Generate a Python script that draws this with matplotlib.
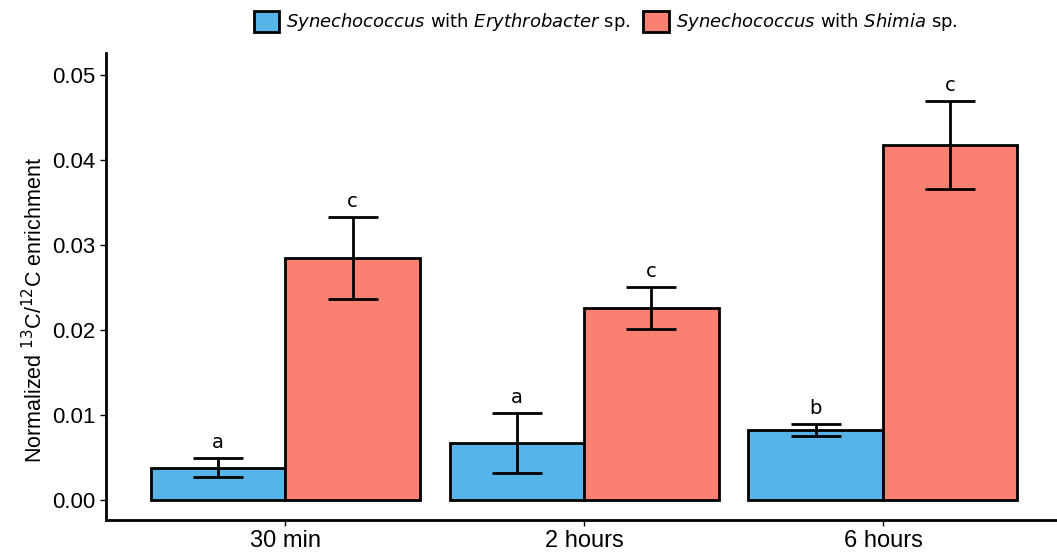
import matplotlib.pyplot as plt
import numpy as np

plt.rcParams['font.family'] = ['Liberation Sans', 'DejaVu Sans']
plt.rcParams['mathtext.fontset'] = 'custom'
plt.rcParams['mathtext.it'] = 'DejaVu Sans:italic'
plt.rcParams['mathtext.rm'] = 'DejaVu Sans'

times = ["30 min", "2 hours", "6 hours"]
ery_mean = [0.0038, 0.0067, 0.0082]
ery_err = [0.0011, 0.0035, 0.0007]
shi_mean = [0.0285, 0.0226, 0.0418]
shi_err = [0.0048, 0.0025, 0.0052]
ery_letters = ["a", "a", "b"]
shi_letters = ["c", "c", "c"]

blue = "#56B4E9"
red = "#FA8072"

fig = plt.figure(figsize=(10.57, 5.58), dpi=100)
ax = fig.add_axes([0.1003, 0.068, 0.899, 0.837])

x = np.arange(1, len(times) + 1)
w = 0.45

ax.bar(x - w / 2, ery_mean, w, color=blue, edgecolor="black", linewidth=2,
       label=r"$\it{Synechococcus}$ with $\it{Erythrobacter}$ sp.", zorder=2)
ax.bar(x + w / 2, shi_mean, w, color=red, edgecolor="black", linewidth=2,
       label=r"$\it{Synechococcus}$ with $\it{Shimia}$ sp.", zorder=2)
ax.errorbar(x - w / 2, ery_mean, yerr=ery_err, fmt="none", ecolor="black",
            elinewidth=2, capsize=18, capthick=2, zorder=3)
ax.errorbar(x + w / 2, shi_mean, yerr=shi_err, fmt="none", ecolor="black",
            elinewidth=2, capsize=18, capthick=2, zorder=3)

for xi, m, e, t in zip(x - w / 2, ery_mean, ery_err, ery_letters):
    ax.text(xi, m + e + 0.0007, t, ha="center", va="bottom", fontsize=14,
            family="DejaVu Sans")
for xi, m, e, t in zip(x + w / 2, shi_mean, shi_err, shi_letters):
    ax.text(xi, m + e + 0.0007, t, ha="center", va="bottom", fontsize=14,
            family="DejaVu Sans")

ax.set_xlim(0.4, 3.58)
ax.set_ylim(-0.00235, 0.0526)
ax.set_yticks([0, 0.01, 0.02, 0.03, 0.04, 0.05])
ax.set_yticklabels(["0.00", "0.01", "0.02", "0.03", "0.04", "0.05"])
ax.set_xticks(x)
ax.set_xticklabels(times)
ax.tick_params(axis="y", labelsize=16, length=4, width=1)
ax.tick_params(axis="x", labelsize=17, length=4, width=1)
for s in ["top", "right"]:
    ax.spines[s].set_visible(False)
for s in ["left", "bottom"]:
    ax.spines[s].set_linewidth(2)

ax.set_ylabel("Normalized $^{13}$C/$^{12}$C enrichment", fontsize=15.5)
ax.yaxis.set_label_coords(-0.062, 0.45)

fig.legend(loc="upper center", bbox_to_anchor=(0.573, 1.01), ncol=2, frameon=False,
           prop={"family": "DejaVu Sans", "size": 13}, handlelength=1.4,
           handleheight=1.4, columnspacing=0.7, handletextpad=0.4)

fig.savefig("out.png", dpi=100)
